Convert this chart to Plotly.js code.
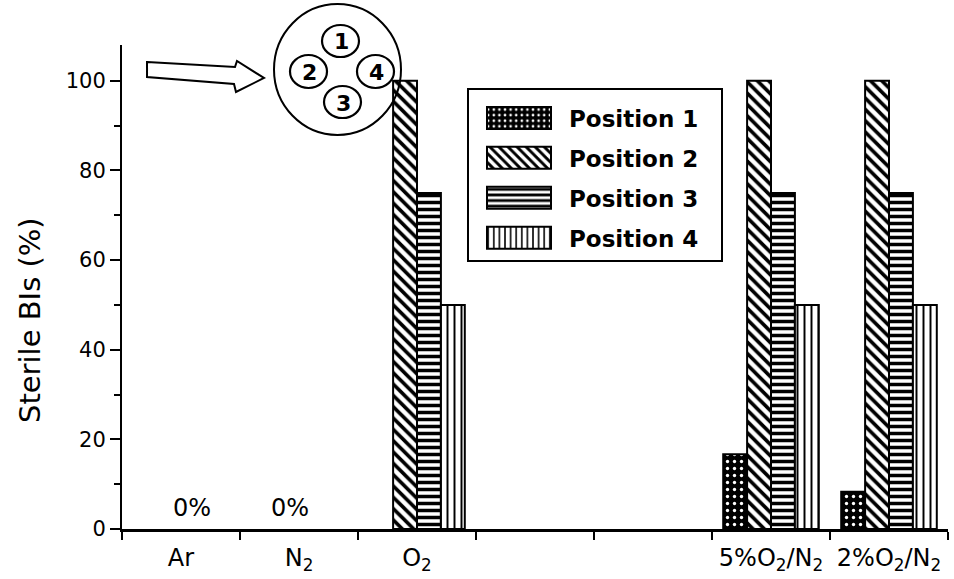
<!DOCTYPE html>
<html>
<head>
<meta charset="utf-8">
<script src="https://cdn.plot.ly/plotly-3.0.1.min.js"></script>
<style>html,body{margin:0;padding:0;background:#fff;}#chart{width:954px;height:579px;}</style>
</head>
<body>
<div id="chart"></div>
<script>
// ---- data ----
const categories = ["Ar", "N2", "O2", "gap1", "gap2", "5%O2/N2", "2%O2/N2"];
const tickLabels = ["Ar", "N<sub>2</sub>", "O<sub>2</sub>", "", "", "5%O<sub>2</sub>/N<sub>2</sub>", "2%O<sub>2</sub>/N<sub>2</sub>"];
const seriesNames = ["Position 1", "Position 2", "Position 3", "Position 4"];
const position1 = [0, 0, 0, null, null, 16.7, 8.3];
const position2 = [0, 0, 100, null, null, 100, 100];
const position3 = [0, 0, 75, null, null, 75, 75];
const position4 = [0, 0, 50, null, null, 50, 50];
const yTicks = [0, 20, 40, 60, 80, 100];
const insetLabels = ["1", "2", "3", "4"];

const FONT = "DejaVu Sans, Verdana, sans-serif";

// ---- geometry helpers (pixel -> paper) ----
const W = 954, H = 579, ML = 122, MR = 6, MT = 45, MB = 50;
const PW = W - ML - MR, PH = H - MT - MB;
const px = x => (x - ML) / PW;
const py = y => (H - MB - y) / PH;

const patterns = [
  {shape: ".", fgcolor: "#fff", bgcolor: "#000", size: 7, solidity: 0.18},
  {shape: "\\", fgcolor: "#000", bgcolor: "#fff", size: 8, solidity: 0.45},
  {shape: "-", fgcolor: "#000", bgcolor: "#fff", size: 7, solidity: 0.5},
  {shape: "|", fgcolor: "#000", bgcolor: "#fff", size: 7, solidity: 0.28}
];
const allSeries = [position1, position2, position3, position4];
const traces = allSeries.map((vals, i) => ({
  type: "bar",
  name: seriesNames[i],
  x: categories,
  y: vals,
  legendgroup: "g" + i,
  marker: {
    color: i === 0 ? "#000" : "#fff",
    line: {color: "#000", width: vals.map(v => (v ? 2 : 0))},
    pattern: patterns[i]
  },
  hoverinfo: "x+y+name"
}));

// "0%" labels where every position is zero
const annotations = [];
categories.forEach((c, k) => {
  const vals = allSeries.map(s => s[k]);
  if (vals.every(v => v === 0)) {
    annotations.push({
      x: c, y: 0, xref: "x", yref: "y", text: vals[0] + "%", showarrow: false,
      yanchor: "bottom", yshift: 5, xshift: k === 0 ? 11 : -9,
      font: {size: 24, color: "#000", family: FONT}
    });
  }
});
// y-axis title
annotations.push({
  xref: "paper", yref: "paper", x: px(30), y: py(320), text: "Sterile BIs (%)",
  textangle: -90, showarrow: false, xanchor: "center", yanchor: "middle",
  font: {size: 29, color: "#000", family: FONT}
});

// inset diagram
const small = [
  {x0: 322, x1: 359, y0: 25, y1: 57},
  {x0: 290, x1: 327, y0: 55, y1: 88},
  {x0: 324, x1: 361, y0: 86, y1: 118},
  {x0: 357, x1: 394, y0: 55, y1: 88}
];
const shapes = [
  {type: "circle", xref: "paper", yref: "paper", x0: px(274), x1: px(401), y0: py(135), y1: py(4),
   line: {color: "#000", width: 2}, fillcolor: "rgba(255,255,255,0)", layer: "above"}
];
small.forEach((c, i) => {
  shapes.push({type: "circle", xref: "paper", yref: "paper", x0: px(c.x0), x1: px(c.x1), y0: py(c.y1), y1: py(c.y0),
    line: {color: "#000", width: 2.2}, layer: "above"});
  annotations.push({xref: "paper", yref: "paper", x: px((c.x0 + c.x1) / 2 + 1), y: py((c.y0 + c.y1) / 2 + 1),
    text: insetLabels[i], showarrow: false, xanchor: "center", yanchor: "middle",
    font: {size: 22, color: "#000", family: FONT, weight: "bold"}});
});
const arrowPts = [[147, 62], [235, 67], [237, 61], [264, 78], [236, 92], [234, 84], [147, 77]];
shapes.push({
  type: "path", xref: "paper", yref: "paper",
  path: "M" + arrowPts.map(p => px(p[0]).toFixed(4) + "," + py(p[1]).toFixed(4)).join("L") + "Z",
  line: {color: "#000", width: 2}, fillcolor: "#fff", layer: "above"
});

const layout = {
  width: W, height: H,
  margin: {l: ML, r: MR, t: MT, b: MB},
  paper_bgcolor: "#fff", plot_bgcolor: "#fff",
  font: {family: FONT, color: "#000"},
  barmode: "group", bargap: 0.19, bargroupgap: 0,
  showlegend: true,
  legend: {
    x: px(467), y: py(88), xanchor: "left", yanchor: "top",
    bordercolor: "#000", borderwidth: 2, bgcolor: "#fff",
    font: {size: 23, color: "#000", family: FONT, weight: "bold"},
    title: {text: " ", font: {size: 5}},
    itemwidth: 90, tracegroupgap: 7, traceorder: "grouped"
  },
  xaxis: {
    type: "category", categoryorder: "array", categoryarray: categories,
    tickmode: "array", tickvals: categories, ticktext: tickLabels,
    tickson: "boundaries", ticks: "outside", ticklen: 8, tickwidth: 2, tickcolor: "#000",
    ticklabelstandoff: 6,
    showline: true, linewidth: 2.5, linecolor: "#000", showgrid: false, zeroline: false,
    range: [-0.5, 6.5], fixedrange: true,
    tickfont: {size: 24, color: "#000", family: FONT}
  },
  yaxis: {
    range: [0, 108], tickmode: "array", tickvals: yTicks,
    ticks: "outside", ticklen: 10, tickwidth: 2, tickcolor: "#000",
    minor: {dtick: 10, ticks: "outside", ticklen: 6, tickwidth: 2, tickcolor: "#000", showgrid: false},
    showline: true, linewidth: 2, linecolor: "#000", showgrid: false, zeroline: false,
    tickfont: {size: 21, color: "#000", family: FONT}
  },
  annotations: annotations,
  shapes: shapes
};

Plotly.newPlot("chart", traces, layout, {displayModeBar: false, staticPlot: true}).then(gd => {
  gd.querySelectorAll(".legend .legendpoints path").forEach(p => {
    p.setAttribute("d", "M32,11H-32V-11H32Z");
    p.style.stroke = "#000";
    p.style.strokeWidth = "2px";
  });
  const bg = gd.querySelector(".legend rect.bg");
  if (bg) bg.setAttribute("width", "254");
});
</script>
</body>
</html>
